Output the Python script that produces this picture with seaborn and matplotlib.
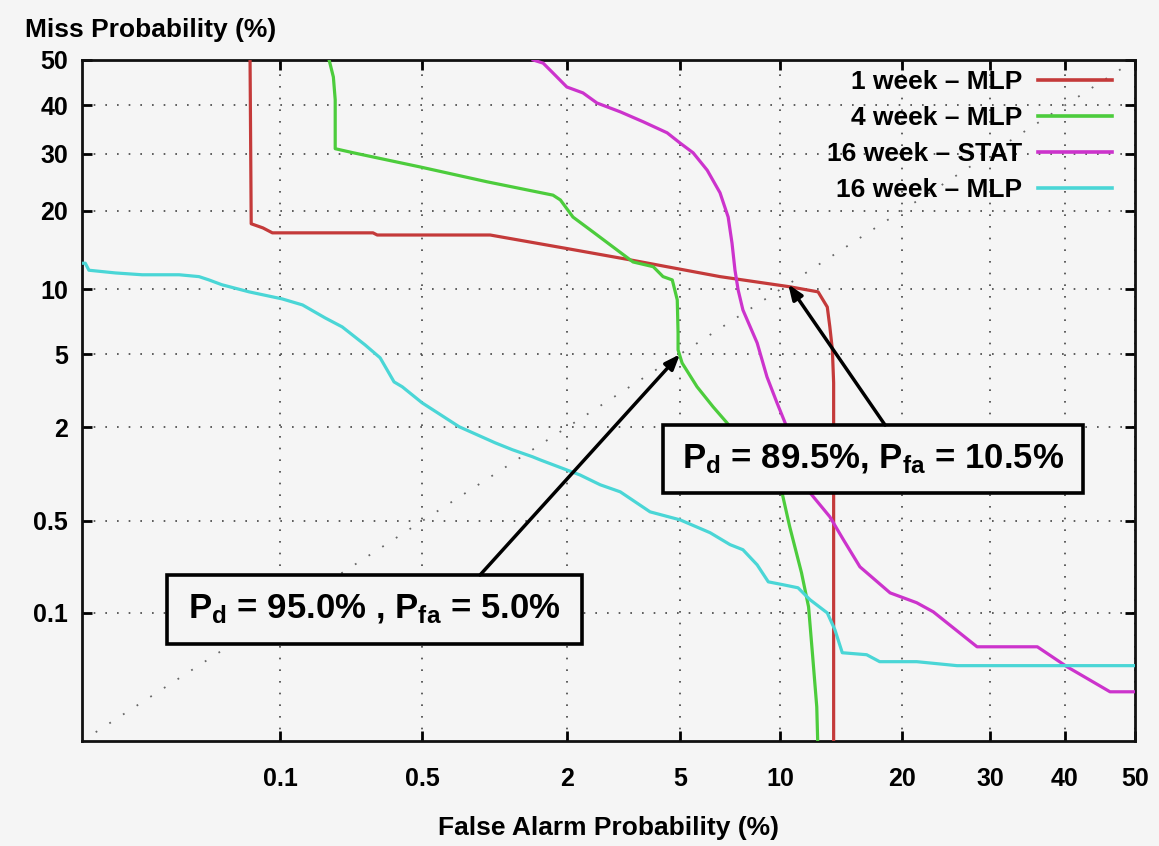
import numpy as np
import pandas as pd
import matplotlib
matplotlib.use("Agg")
import matplotlib.pyplot as plt
from matplotlib.lines import Line2D
from matplotlib.patches import Rectangle
import seaborn as sns
from statistics import NormalDist

# ---------------- data (percent) ----------------
series_names = ["1 week – MLP", "4 week – MLP", "16 week – STAT", "16 week – MLP"]

red_fa = [0.069, 0.070, 0.081, 0.091, 0.161, 0.294, 0.308, 0.988, 2.00, 3.40, 6.68, 10.6, 12.6, 13.3, 13.5, 13.7, 13.8, 13.8]
red_miss = [50, 18.0, 17.4, 16.7, 16.7, 16.7, 16.4, 16.4, 14.6, 13.2, 11.3, 10.25, 9.75, 8.37, 6.79, 5.26, 3.56, 0.005]

green_fa = [0.179, 0.188, 0.192, 0.192, 0.236, 0.488, 0.959, 1.77, 1.89, 2.11, 2.51, 2.96, 3.48, 4.08, 4.40, 4.72,
            4.90, 4.93, 4.93, 5.08, 5.67, 6.36, 7.01, 8.49, 10.1, 10.6, 11.4, 11.9, 12.2, 12.5, 12.6]
green_miss = [50, 46.2, 41.2, 31.0, 30.2, 27.5, 24.8, 22.5, 21.7, 19.0, 16.8, 14.8, 12.95, 12.4, 11.3, 10.95,
              9.0, 6.36, 5.26, 4.52, 3.39, 2.63, 2.13, 1.27, 0.78, 0.454, 0.208, 0.112, 0.0427, 0.015, 0.005]

mag_fa = [1.48, 1.62, 1.77, 2.00, 2.30, 2.59, 3.14, 3.77, 4.54, 5.01, 5.51, 6.10, 6.68, 7.07, 7.26, 7.41, 7.57,
          7.82, 8.60, 9.17, 9.78, 10.4, 11.2, 12.0, 13.5, 14.6, 16.0, 18.8, 21.5, 23.3, 28.4, 36.2, 40.3, 46.4, 50]
mag_miss = [50, 49.3, 47.1, 44.0, 42.7, 40.5, 38.6, 36.5, 34.2, 32.1, 30.2, 26.9, 22.9, 19.0, 15.3, 12.0, 9.94,
            8.12, 5.69, 3.83, 2.77, 2.02, 1.27, 0.78, 0.534, 0.366, 0.231, 0.145, 0.121, 0.102, 0.052, 0.052,
            0.0348, 0.0207, 0.0207]

cyan_fa = [0.0071, 0.0074, 0.0078, 0.0114, 0.0166, 0.0275, 0.0358, 0.0408, 0.0483, 0.0682, 0.1025, 0.131, 0.171,
           0.208, 0.269, 0.318, 0.370, 0.404, 0.498, 0.728, 1.036, 1.22, 1.47, 1.58, 2.24, 2.66, 3.14, 3.98, 5.01,
           6.23, 7.16, 7.82, 8.60, 9.25, 10.17, 11.16, 12.0, 13.3, 13.9, 14.5, 16.6, 17.8, 21.5, 26.0, 33.5, 50]
cyan_miss = [12.8, 12.8, 12.0, 11.7, 11.5, 11.5, 11.3, 10.95, 10.45, 9.75, 9.09, 8.55, 7.47,
             6.79, 5.57, 4.80, 3.60, 3.39, 2.77, 2.02, 1.62, 1.47, 1.33, 1.27, 1.02, 0.88, 0.79, 0.578, 0.508,
             0.412, 0.338, 0.310, 0.239, 0.177, 0.168, 0.159, 0.128, 0.100, 0.0726, 0.0462, 0.0444, 0.0386, 0.0386,
             0.0356, 0.0356, 0.0356]

x_ticks = [0.1, 0.5, 2, 5, 10, 20, 30, 40, 50]
x_ticklabels = ["0.1", "0.5", "2", "5", "10", "20", "30", "40", "50"]
y_ticks = [0.1, 0.5, 2, 5, 10, 20, 30, 40, 50]
y_ticklabels = ["0.1", "0.5", "2", "5", "10", "20", "30", "40", "50"]
axis_min = 0.00706
axis_max = 50

annot1_point = (5.0, 5.0)
annot1_text = r"P$_{\mathregular{d}}$ = 95.0% , P$_{\mathregular{fa}}$ = 5.0%"
annot2_point = (10.5, 10.5)
annot2_text = r"P$_{\mathregular{d}}$ = 89.5%, P$_{\mathregular{fa}}$ = 10.5%"

colors = {"1 week – MLP": "#c43a3a", "4 week – MLP": "#4ccc3c",
          "16 week – STAT": "#cc33cc", "16 week – MLP": "#4ad6d6"}

# ---------------- frame ----------------
frames = []
for name, fa, ms in zip(series_names, [red_fa, green_fa, mag_fa, cyan_fa],
                        [red_miss, green_miss, mag_miss, cyan_miss]):
    frames.append(pd.DataFrame({"fa": fa, "miss": ms, "series": name, "order": np.arange(len(fa))}))
df = pd.concat(frames, ignore_index=True)

# ---------------- normal-deviate scale ----------------
_nd = NormalDist()
_ppf = np.vectorize(lambda p: _nd.inv_cdf(p) if np.isfinite(p) else np.nan, otypes=[float])
_cdf = np.vectorize(lambda z: _nd.cdf(z) if np.isfinite(z) else np.nan, otypes=[float])


def fwd(v):
    v = np.asarray(v, dtype=float)
    p = np.clip(v / 100.0, 1e-12, 1 - 1e-12)
    return _ppf(p)


def inv(z):
    z = np.asarray(z, dtype=float)
    return _cdf(z) * 100.0


BG = "#f5f5f5"
plt.rcParams["font.family"] = ["Liberation Sans", "DejaVu Sans"]
plt.rcParams["font.weight"] = "bold"
plt.rcParams["mathtext.default"] = "regular"

fig = plt.figure(figsize=(11.59, 8.46), dpi=100, facecolor=BG)
ax = fig.add_axes([0.0708, 0.1241, 0.9085, 0.8050])
ax.set_facecolor(BG)
ax.set_xscale("function", functions=(fwd, inv))
ax.set_yscale("function", functions=(fwd, inv))

# diagonal reference
ax.plot([axis_min, axis_max], [axis_min, axis_max], linestyle=(0, (1, 8)), color="#666666",
        linewidth=1.3, zorder=1)

sns.lineplot(data=df, x="fa", y="miss", hue="series", hue_order=series_names, palette=colors,
             units="series", estimator=None, sort=False, linewidth=2.3, legend=False, ax=ax, zorder=3)

ax.set_xlim(axis_min, axis_max)
ax.set_ylim(axis_min, axis_max)
ax.set_xticks(x_ticks)
ax.set_xticklabels(x_ticklabels)
ax.set_yticks(y_ticks)
ax.set_yticklabels(y_ticklabels)
ax.minorticks_off()
ax.set_xlabel("")
ax.set_ylabel("")
ax.tick_params(axis="both", direction="in", length=7, width=2, top=True, right=True,
               labelsize=18, colors="black")
ax.tick_params(axis="x", pad=19)
ax.tick_params(axis="y", pad=10)
ax.grid(True, linestyle=(0, (1, 6)), color="#444444", linewidth=1.2)
for s in ax.spines.values():
    s.set_linewidth(2)
    s.set_color("#111111")

# legend (gnuplot style: text right-aligned, sample after text)
handles = [Line2D([], [], color=colors[n], linewidth=2.6) for n in series_names]
leg = ax.legend(handles, series_names, loc="upper right", bbox_to_anchor=(0.978, 0.985),
                frameon=False, markerfirst=False, fontsize=19, handlelength=2.8,
                handletextpad=0.6, labelspacing=0.45, borderaxespad=0, borderpad=0)

# annotation boxes
def box(x0, y0, x1, y1, text, start, point):
    ax.add_patch(Rectangle((x0, y0), x1 - x0, y1 - y0, transform=ax.transAxes, facecolor=BG,
                           edgecolor="black", linewidth=2.6, zorder=6))
    ax.text((x0 + x1) / 2, (y0 + y1) / 2, text, transform=ax.transAxes, ha="center", va="center",
            fontsize=25, fontweight="bold", zorder=7)
    ax.annotate("", xy=point, xycoords="data", xytext=start, textcoords="axes fraction",
                arrowprops=dict(arrowstyle="-|>,head_length=0.9,head_width=0.35", color="black",
                                linewidth=2.5, shrinkA=0, shrinkB=0), zorder=7)

box(0.0807, 0.1424, 0.4748, 0.2438, annot1_text, (0.378, 0.2438), annot1_point)
box(0.5518, 0.3642, 0.9506, 0.4640, annot2_text, (0.7626, 0.4640), annot2_point)

fig.text(25 / 1159, 1 - 30 / 846, "Miss Probability (%)", ha="left", va="center", fontsize=19,
         fontweight="bold")
fig.text(0.5254, 1 - 828 / 846, "False Alarm Probability (%)", ha="center", va="center", fontsize=19,
         fontweight="bold")

fig.savefig("out.png", dpi=100, facecolor=BG)
